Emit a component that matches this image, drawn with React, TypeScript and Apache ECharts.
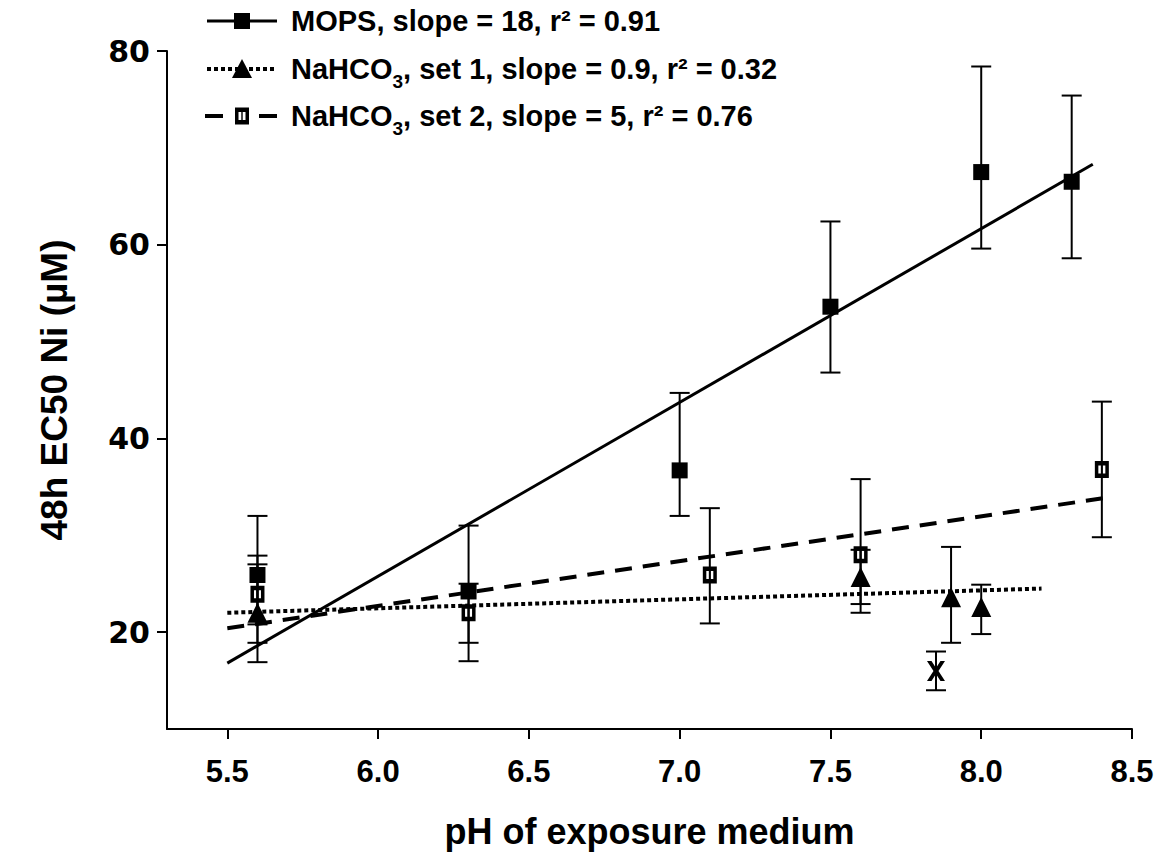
import React, { useEffect, useRef } from "react";
import * as echarts from "echarts";

// ---- data ----
const xTickValues = [5.5, 6.0, 6.5, 7.0, 7.5, 8.0, 8.5];
const yTickValues = [20, 40, 60, 80];

const mopsX = [5.6, 6.3, 7.0, 7.5, 8.0, 8.3];
const mopsY = [25.9, 24.2, 36.7, 53.6, 67.5, 66.5];
const mopsLow = [18.9, 17.0, 32.0, 46.8, 59.6, 58.6];
const mopsHigh = [32.0, 31.0, 44.7, 62.4, 78.4, 75.4];

const set1X = [5.6, 7.6, 7.9, 8.0];
const set1Y = [22.0, 25.7, 23.6, 22.6];
const set1Low = [16.9, 22.9, 18.9, 19.8];
const set1High = [27.0, 28.5, 28.8, 24.9];

const set2X = [5.6, 6.3, 7.1, 7.6, 8.4];
const set2Y = [23.9, 22.0, 25.9, 28.0, 36.8];
const set2Low = [20.8, 18.9, 20.9, 22.0, 29.8];
const set2High = [27.9, 25.0, 32.8, 35.8, 43.8];

const outlierX = [7.85];
const outlierY = [16.0];
const outlierLow = [14.0];
const outlierHigh = [18.0];

// regression line end points
const mopsFitX = [5.5, 8.37];
const mopsFitY = [16.8, 68.3];
const set1FitX = [5.5, 8.2];
const set1FitY = [22.0, 24.5];
const set2FitX = [5.5, 8.42];
const set2FitY = [20.4, 33.9];

const legendLabels = [
  "MOPS, slope = 18, r\u00b2 = 0.91",
  "NaHCO{sub|3}, set 1, slope = 0.9, r\u00b2 = 0.32",
  "NaHCO{sub|3}, set 2, slope = 5, r\u00b2 = 0.76",
];

const xTitle = "pH of exposure medium";
const yTitle = "48h EC50 Ni (\u00b5M)";

// ---- helpers ----
const zip = (xs: number[], ys: number[]) => xs.map((x, i) => [x, ys[i]]);
const zip3 = (xs: number[], lo: number[], hi: number[]) =>
  xs.map((x, i) => [x, lo[i], hi[i]]);

const ARIAL = "'Liberation Sans', Arial, Helvetica, sans-serif";
const DEJAVU = "'DejaVu Sans', 'Liberation Sans', sans-serif";

const openSquarePath =
  "path://M0,0 H14 V17 H0 Z M3.5,4.5 V12.5 H6.3 V4.5 Z M7.7,4.5 V12.5 H10.5 V4.5 Z";
const crossPath =
  "path://M0,0 L4.5,0 L9,7 L13.5,0 L18,0 L11.5,10 L18,20 L13.5,20 L9,13 L4.5,20 L0,20 L6.5,10 Z";

const errorBarSeries = (data: number[][]) => ({
  type: "custom",
  data,
  encode: { x: 0, y: [1, 2] },
  z: 2,
  silent: true,
  renderItem: (params: any, api: any) => {
    const x = api.value(0);
    const lo = api.coord([x, api.value(1)]);
    const hi = api.coord([x, api.value(2)]);
    const hw = 10;
    const st = { stroke: "#000", lineWidth: 2 };
    return {
      type: "group",
      children: [
        { type: "line", shape: { x1: lo[0], y1: lo[1], x2: hi[0], y2: hi[1] }, style: st },
        { type: "line", shape: { x1: lo[0] - hw, y1: lo[1], x2: lo[0] + hw, y2: lo[1] }, style: st },
        { type: "line", shape: { x1: hi[0] - hw, y1: hi[1], x2: hi[0] + hw, y2: hi[1] }, style: st },
      ],
    };
  },
});

const fitSeries = (xs: number[], ys: number[], type: any, width: number) => ({
  type: "line",
  data: zip(xs, ys),
  showSymbol: false,
  symbol: "none",
  z: 3,
  silent: true,
  lineStyle: { color: "#000", width, type, opacity: 1 },
});

const legendY = [21, 69, 116];
const LX0 = 207;
const LX1 = 277;
const LC = 242;

const buildLegend = () => {
  const els: any[] = [];
  // row 1: solid + filled square
  els.push({ type: "line", shape: { x1: LX0, y1: legendY[0], x2: LX1, y2: legendY[0] }, style: { stroke: "#000", lineWidth: 3 } });
  els.push({ type: "rect", shape: { x: LC - 8, y: legendY[0] - 8, width: 16, height: 16 }, style: { fill: "#000" } });
  // row 2: dotted + triangle
  els.push({ type: "line", shape: { x1: LX0, y1: legendY[1], x2: LX1, y2: legendY[1] }, style: { stroke: "#000", lineWidth: 4, lineDash: [4, 3] } });
  els.push({ type: "polygon", shape: { points: [[LC, legendY[1] - 10], [LC + 10, legendY[1] + 9], [LC - 10, legendY[1] + 9]] }, style: { fill: "#000" } });
  // row 3: dashed + open square
  els.push({ type: "line", shape: { x1: LX0 - 2, y1: legendY[2], x2: LX0 + 16, y2: legendY[2] }, style: { stroke: "#000", lineWidth: 4 } });
  els.push({ type: "line", shape: { x1: LX1 - 18, y1: legendY[2], x2: LX1, y2: legendY[2] }, style: { stroke: "#000", lineWidth: 4 } });
  els.push({ type: "rect", shape: { x: LC - 7, y: legendY[2] - 8.5, width: 14, height: 17 }, style: { fill: "#000" } });
  els.push({ type: "rect", shape: { x: LC - 3.5, y: legendY[2] - 4, width: 2.8, height: 8 }, style: { fill: "#fff" } });
  els.push({ type: "rect", shape: { x: LC + 0.7, y: legendY[2] - 4, width: 2.8, height: 8 }, style: { fill: "#fff" } });
  legendLabels.forEach((t, i) => {
    els.push({
      type: "text",
      x: 291,
      y: legendY[i],
      style: {
        text: t,
        fill: "#000",
        fontFamily: ARIAL,
        fontWeight: "bold",
        fontSize: 29,
        lineHeight: 44,
        verticalAlign: "middle",
        align: "left",
        rich: {
          sub: {
            fontFamily: ARIAL,
            fontWeight: "bold",
            fontSize: 19,
            verticalAlign: "bottom",
            fill: "#000",
          },
        },
      },
    });
  });
  return els;
};

const option: any = {
  animation: false,
  backgroundColor: "#fff",
  grid: { left: 167, right: 31, top: 51, bottom: 133, containLabel: false, outerBoundsMode: "none" },
  xAxis: {
    type: "value",
    min: 5.3,
    max: 8.5,
    axisLine: { onZero: false, lineStyle: { color: "#000", width: 2 } },
    axisTick: { show: true, length: 10, customValues: xTickValues, lineStyle: { color: "#000", width: 2 } },
    axisLabel: {
      customValues: xTickValues,
      formatter: (v: number) => v.toFixed(1),
      color: "#000",
      fontFamily: ARIAL,
      fontWeight: "bold",
      fontSize: 31,
      margin: 27,
    },
    splitLine: { show: false },
    name: xTitle,
    nameLocation: "middle",
    nameGap: 84,
    nameTextStyle: { color: "#000", fontFamily: ARIAL, fontWeight: "bold", fontSize: 36 },
  },
  yAxis: {
    type: "value",
    min: 10,
    max: 80,
    axisLine: { show: true, onZero: false, lineStyle: { color: "#000", width: 2 } },
    axisTick: { show: true, length: 10, customValues: yTickValues, lineStyle: { color: "#000", width: 2 } },
    axisLabel: {
      customValues: yTickValues,
      color: "#000",
      fontFamily: DEJAVU,
      fontWeight: "bold",
      fontSize: 30,
      margin: 17,
    },
    splitLine: { show: false },
    name: yTitle,
    nameLocation: "middle",
    nameGap: 94,
    nameTextStyle: { color: "#000", fontFamily: ARIAL, fontWeight: "bold", fontSize: 37 },
  },
  graphic: buildLegend(),
  series: [
    errorBarSeries(zip3(mopsX, mopsLow, mopsHigh)),
    errorBarSeries(zip3(set1X, set1Low, set1High)),
    errorBarSeries(zip3(set2X, set2Low, set2High)),
    errorBarSeries(zip3(outlierX, outlierLow, outlierHigh)),
    fitSeries(mopsFitX, mopsFitY, "solid", 3),
    fitSeries(set1FitX, set1FitY, [4, 3], 4),
    fitSeries(set2FitX, set2FitY, [17, 11], 4),
    {
      name: "MOPS",
      type: "scatter",
      data: zip(mopsX, mopsY),
      symbol: "rect",
      symbolSize: 16,
      z: 4,
      itemStyle: { color: "#000", opacity: 1 },
    },
    {
      name: "NaHCO3 set 1",
      type: "scatter",
      data: zip(set1X, set1Y),
      symbol: "triangle",
      symbolSize: [20, 20],
      z: 4,
      itemStyle: { color: "#000", opacity: 1 },
    },
    {
      name: "NaHCO3 set 2",
      type: "scatter",
      data: zip(set2X, set2Y),
      symbol: openSquarePath,
      symbolSize: [14, 17],
      z: 4,
      itemStyle: { color: "#000", opacity: 1 },
    },
    {
      name: "excluded",
      type: "scatter",
      data: zip(outlierX, outlierY),
      symbol: crossPath,
      symbolSize: [18, 20],
      z: 4,
      itemStyle: { color: "#000", opacity: 1 },
    },
  ],
};

export default function App() {
  const ref = useRef<HTMLDivElement>(null);
  useEffect(() => {
    const chart = echarts.init(ref.current!, null, { renderer: "svg" });
    chart.setOption(option);
    return () => chart.dispose();
  }, []);
  return (
    <div
      ref={ref}
      style={{ position: "absolute", left: 0, top: 0, width: 1163, height: 862, background: "#fff" }}
    />
  );
}
